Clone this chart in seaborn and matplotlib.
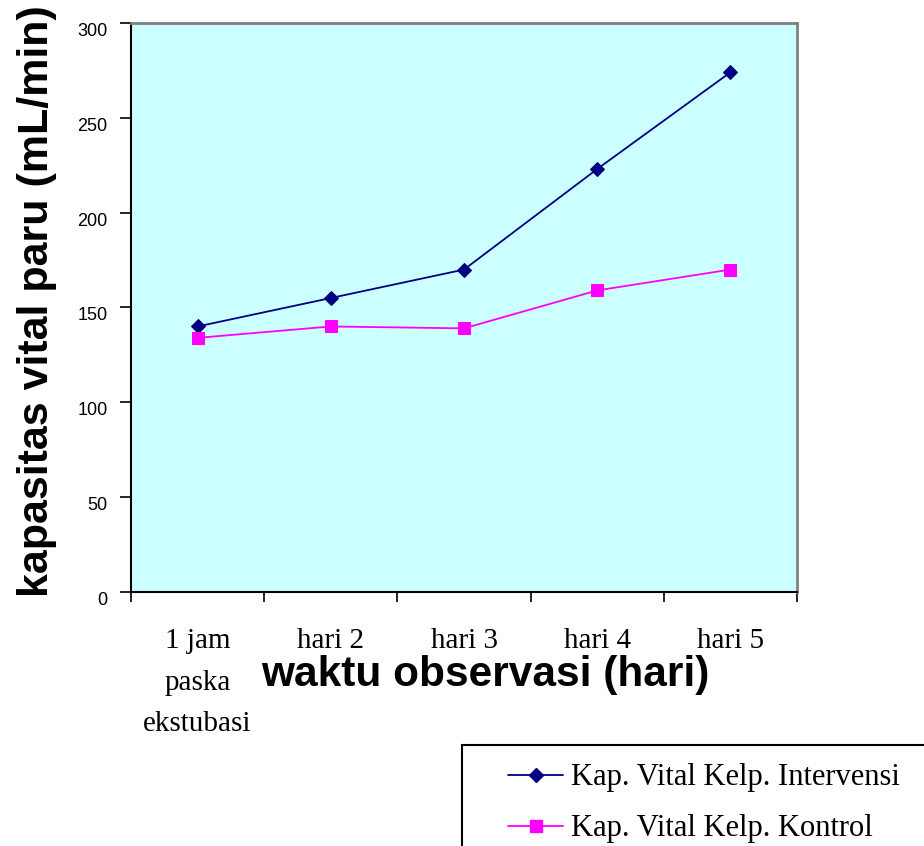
import matplotlib
matplotlib.use("Agg")
import matplotlib.pyplot as plt
from matplotlib.patches import Rectangle
from matplotlib.ticker import FixedLocator, NullFormatter
import seaborn as sns
import pandas as pd

# observation times
waktu = ["1 jam\npaska\nekstubasi", "hari 2", "hari 3", "hari 4", "hari 5"]
# vital capacity (mL/min) per group
intervensi = [140, 155, 170, 223, 274]
kontrol = [134, 140, 139, 159, 170]
kelompok = ["Kap. Vital Kelp. Intervensi", "Kap. Vital Kelp. Kontrol"]
warna = ["#000080", "#FF00FF"]
y_ticks = [0, 50, 100, 150, 200, 250, 300]

df = pd.DataFrame({
    "waktu": waktu * 2,
    "nilai": intervensi + kontrol,
    "kelompok": [kelompok[0]] * len(waktu) + [kelompok[1]] * len(waktu),
})

sns.set_style("white")
plt.rcParams["font.family"] = ["Liberation Sans", "DejaVu Sans"]
plt.rcParams.update({"text.color": "black", "axes.labelcolor": "black",
                     "xtick.color": "black", "ytick.color": "black"})

fig = plt.figure(figsize=(9.24, 8.46), dpi=100)
ax = fig.add_axes([131 / 924, 1 - 592 / 846, 666 / 924, 569 / 846])
ax.set_facecolor("#CCFFFF")

sns.lineplot(data=df, x="waktu", y="nilai", hue="kelompok", style="kelompok",
             palette=warna, markers=["D", "s"], dashes=False, sort=False,
             linewidth=1.3, markersize=8, legend=False, ax=ax)
for ln, c, ms in zip(ax.lines, warna, [7.5, 8.5]):
    ln.set_markeredgecolor(c)
    ln.set_markerfacecolor(c)
    ln.set_markersize(ms)

ax.set_xlim(-0.5, len(waktu) - 0.5)
ax.set_ylim(0, 300)
ax.set_yticks(y_ticks)
# value labels hang just below their tick marks
ax.set_yticklabels([str(v) for v in y_ticks], fontsize=13, color="black",
                   va="top")

# category labels centred, tick marks on the boundaries
ax.xaxis.set_major_locator(FixedLocator([i - 0.5 for i in range(len(waktu) + 1)]))
ax.xaxis.set_major_formatter(NullFormatter())
ax.xaxis.set_minor_locator(FixedLocator(list(range(len(waktu)))))
ax.set_xticklabels(waktu, minor=True, fontsize=21, family="Liberation Serif",
                   linespacing=1.78, va="top", color="black")
ax.tick_params(axis="x", which="major", direction="out", length=7, width=1.2,
               color="black", bottom=True)
ax.tick_params(axis="x", which="minor", length=0, pad=26)
ax.tick_params(axis="y", direction="out", length=8, width=1.2, color="black",
               left=True, pad=9)

for side in ["left", "bottom"]:
    ax.spines[side].set_color("black")
    ax.spines[side].set_linewidth(1.5)
for side in ["top", "right"]:
    ax.spines[side].set_color("#808080")
    ax.spines[side].set_linewidth(2)

ax.set_xlabel("")
ax.set_ylabel("")
fig.text(485 / 924, 1 - 675 / 846, "waktu observasi (hari)", fontsize=30.5,
         fontweight="bold", ha="center", va="center")
fig.text(37 / 924, 1 - 301 / 846, "kapasitas vital paru (mL/min)", fontsize=31,
         fontweight="bold", ha="center", va="center", rotation=90)

# legend box running off the lower right edge
fig.patches.append(Rectangle((462 / 924, -0.1), 0.6, 0.1 + 1 - 745 / 846,
                             transform=fig.transFigure, fill=False,
                             edgecolor="black", linewidth=1.5))
handles = [plt.Line2D([], [], color=c, marker=m, markersize=ms, linewidth=1.3)
           for c, m, ms in zip(warna, ["D", "s"], [7.5, 8.5])]
fig.legend(handles, kelompok, loc="upper left",
           bbox_to_anchor=(487 / 924, 1 - 742 / 846), frameon=False,
           prop={"family": "Liberation Serif", "size": 22},
           handlelength=1.8, handletextpad=0.25, labelspacing=0.72,
           borderpad=0.2, labelcolor="black")

fig.savefig("out.png", dpi=100)
